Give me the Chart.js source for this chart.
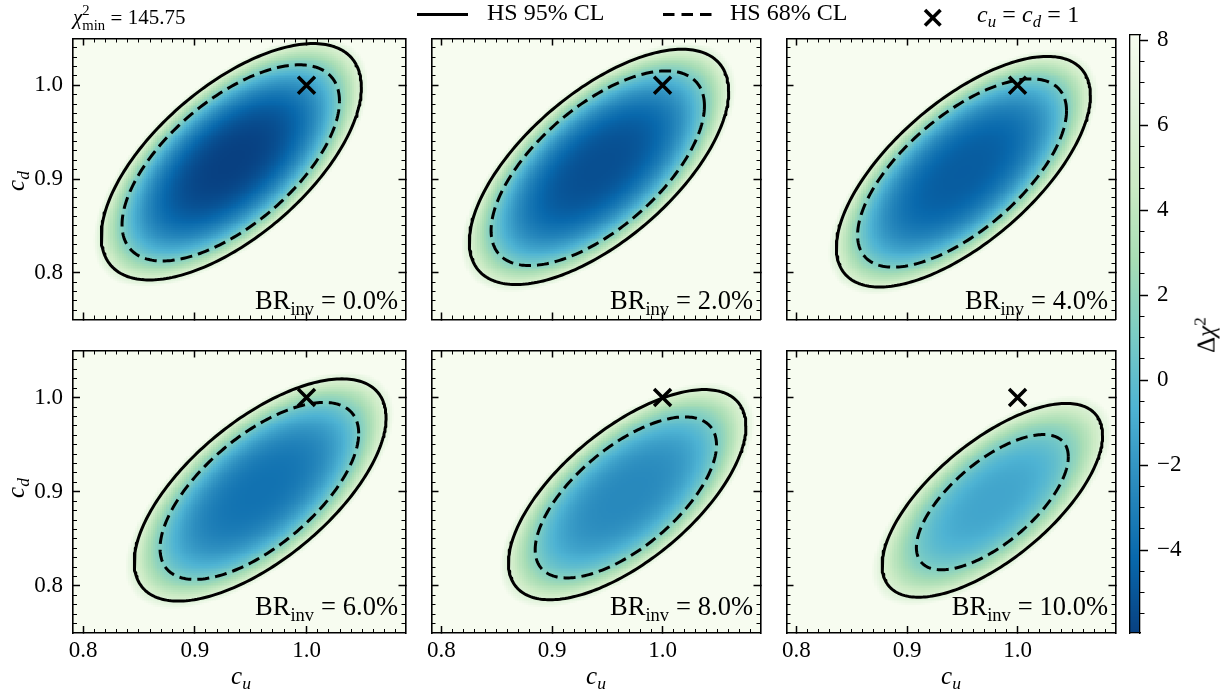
<!DOCTYPE html>
<html>
<head>
<meta charset="utf-8">
<script src="https://cdn.jsdelivr.net/npm/chart.js@4.4.1/dist/chart.umd.min.js"></script>
<style>
  html,body{margin:0;padding:0;background:#fff;}
  body{width:1232px;height:692px;position:relative;overflow:hidden;font-family:"Liberation Serif","Times New Roman",serif;color:#000;}
  canvas{position:absolute;}
  .tx{position:absolute;white-space:nowrap;line-height:1;font-family:"Liberation Serif","Times New Roman",serif;color:#000;}
  .sb{font-size:70%;position:relative;top:0.3em;}
  .ms{display:inline-block;vertical-align:-0.38em;font-size:70%;line-height:1.02;text-align:left;}
  .eq{padding:0 0.26em;}
</style>
</head>
<body>
<script>
// ---------------- data ----------------
const brInv        = [0.0, 2.0, 4.0, 6.0, 8.0, 10.0];          // BR_inv (%) per panel
const cuMajorTicks = [0.8, 0.9, 1.0];
const cdMajorTicks = [0.8, 0.9, 1.0];
const cbMajorTicks = [-4, -2, 0, 2, 4, 6, 8];
const chi2MinValue = 145.75;
const smPointU     = [1.0];
const smPointD     = [1.0];
const cuRange      = [0.791, 1.0886];
const cdRange      = [0.75, 1.05];
const cbRange      = [-5.95, 8.12];
// HS 95% CL contour (solid): centre and half-extent in c_u, c_d
const cl95CenterU  = [0.9327, 0.9425, 0.9510, 0.9585, 0.9680, 0.9772];
const cl95CenterD  = [0.9184, 0.9129, 0.9078, 0.9019, 0.8969, 0.8909];
const cl95HalfU    = [0.1164, 0.1173, 0.1149, 0.1127, 0.1074, 0.0997];
const cl95HalfD    = [0.1262, 0.1256, 0.1231, 0.1180, 0.1116, 0.1029];
// HS 68% CL contour (dashed)
const cl68CenterU  = [0.9322, 0.9414, 0.9498, 0.9578, 0.9668, 0.9772];
const cl68CenterD  = [0.9172, 0.9115, 0.9064, 0.9009, 0.8940, 0.8889];
const cl68HalfU    = [0.0973, 0.0965, 0.0945, 0.0889, 0.0820, 0.0687];
const cl68HalfD    = [0.1047, 0.1039, 0.1005, 0.0940, 0.0855, 0.0718];
const contourCorr  = [0.63, 0.64, 0.66, 0.65, 0.65, 0.67];     // c_u–c_d correlation of the contours
const deltaChi2Min = [-5.95, -5.3, -4.7, -3.7, -2.6, -1.3];    // darkest value in each panel
const deltaChi2At95 = 6.0;    // colour value along the solid contour
const deltaChi2At68 = 1.2;    // colour value along the dashed contour

// ---------------- helpers ----------------
const FONT = '"Liberation Serif", "Times New Roman", serif';
const GNBU_R = ['#084081','#0868ac','#2b8cbe','#4eb3d3','#7bccc4','#a8ddb5','#ccebc5','#e0f3db','#f7fcf0'];
const CM = GNBU_R.map(h => [parseInt(h.slice(1,3),16), parseInt(h.slice(3,5),16), parseInt(h.slice(5,7),16)]);
function colorFor(v){
  let t = (v - cbRange[0]) / (cbRange[1] - cbRange[0]);
  t = Math.max(0, Math.min(1, t));
  const s = t * (CM.length - 1);
  const i = Math.min(CM.length - 2, Math.floor(s));
  const f = s - i, a = CM[i], b = CM[i+1];
  return 'rgb(' + Math.round(a[0]+(b[0]-a[0])*f) + ',' + Math.round(a[1]+(b[1]-a[1])*f) + ',' + Math.round(a[2]+(b[2]-a[2])*f) + ')';
}
function profileExponent(p){
  const k = 0.5 * (cl68HalfU[p]/cl95HalfU[p] + cl68HalfD[p]/cl95HalfD[p]);
  const m = deltaChi2Min[p];
  return Math.log((deltaChi2At68 - m) / (deltaChi2At95 - m)) / Math.log(k);
}
function deltaChi2(p, u, d, expo){
  const X = (u - cl95CenterU[p]) / cl95HalfU[p];
  const Y = (d - cl95CenterD[p]) / cl95HalfD[p];
  const r = contourCorr[p];
  const r2 = (X*X - 2*r*X*Y + Y*Y) / (1 - r*r);
  const m = deltaChi2Min[p];
  return m + (deltaChi2At95 - m) * Math.pow(Math.sqrt(r2), expo);
}
function contourPoints(cu, cd, hu, hd, rho){
  const pts = [], s = Math.sqrt(1 - rho*rho), n = 240;
  for (let i = 0; i <= n; i++){
    const t = 2*Math.PI*i/n;
    pts.push({x: cu + hu*Math.cos(t), y: cd + hd*(rho*Math.cos(t) + s*Math.sin(t))});
  }
  return pts;
}
function minorList(lo, hi, step){
  const out = [];
  for (let k = Math.ceil(lo/step - 1e-9); k*step <= hi + 1e-9; k++){
    const v = +(k*step).toFixed(4);
    if (v > lo + 1e-6 && v < hi - 1e-6) out.push(v);
  }
  return out;
}
const cuMinorTicks = minorList(cuRange[0], cuRange[1], 0.01);
const cdMinorTicks = minorList(cdRange[0], cdRange[1], 0.01);
const cbMinorTicks = minorList(cbRange[0], cbRange[1], 0.5);

function fixSize(s, vertical, size){
  if (vertical) s.width = size; else s.height = size;
  s.paddingTop = 0; s.paddingBottom = 0; s.paddingLeft = 0; s.paddingRight = 0;
}

function heatmapPlugin(p){
  return {
    id: 'heat' + p,
    beforeDraw(chart){
      const xs = chart.scales.x, ys = chart.scales.y, ctx = chart.ctx, a = chart.chartArea;
      const expo = profileExponent(p);
      const du = 0.002, dd = 0.002;
      ctx.save();
      ctx.beginPath(); ctx.rect(a.left, a.top, a.right - a.left, a.bottom - a.top); ctx.clip();
      for (let u = cuRange[0]; u < cuRange[1]; u += du){
        const x0 = Math.floor(xs.getPixelForValue(u)), x1 = Math.ceil(xs.getPixelForValue(u + du));
        for (let d = cdRange[0]; d < cdRange[1]; d += dd){
          const yb = Math.ceil(ys.getPixelForValue(d)), yt = Math.floor(ys.getPixelForValue(d + dd));
          ctx.fillStyle = colorFor(deltaChi2(p, u + du/2, d + dd/2, expo));
          ctx.fillRect(x0, yt, x1 - x0, yb - yt);
        }
      }
      ctx.restore();
    }
  };
}

function axisCfg(pos, range, vals, len, size, weight, showLabels, showBorder, pad){
  const vertical = (pos === 'left' || pos === 'right');
  return {
    type: 'linear', position: pos, min: range[0], max: range[1], weight: weight,
    afterBuildTicks: s => { s.ticks = vals.map(v => ({value: v})); },
    afterFit: s => fixSize(s, vertical, size),
    ticks: {display: showLabels, autoSkip: false, maxRotation: 0, minRotation: 0,
            font: {family: FONT, size: 23}, color: '#000', padding: pad,
            callback: v => Number(v).toFixed(1)},
    grid: {display: true, drawOnChartArea: false, drawTicks: true, tickLength: len,
           tickWidth: Math.abs(len) > 5 ? 1.5 : 1, tickColor: '#000'},
    border: {display: showBorder, color: '#000', width: 1.6}
  };
}

const colLeft = [73, 428, 783], rowTop = [35, 343], rowH = [292, 290], panelW = 336;

function makePanel(p){
  const col = p % 3, row = Math.floor(p / 3);
  const L = colLeft[col], T = rowTop[row], H = rowH[row];
  const padL = col === 0 ? 73 : 12, padR = 12, padT = row === 0 ? 12 : 8, padB = row === 1 ? 59 : 8;
  const cv = document.createElement('canvas');
  cv.width = panelW + padL + padR; cv.height = H + padT + padB;
  cv.style.left = (L - padL) + 'px'; cv.style.top = (T - padT) + 'px';
  cv.style.width = cv.width + 'px'; cv.style.height = cv.height + 'px';
  document.body.appendChild(cv);
  new Chart(cv, {
    type: 'scatter',
    data: {datasets: [
      {data: contourPoints(cl95CenterU[p], cl95CenterD[p], cl95HalfU[p], cl95HalfD[p], contourCorr[p]),
       showLine: true, borderColor: '#000', borderWidth: 3, pointRadius: 0, tension: 0, fill: false,
       borderJoinStyle: 'round', borderCapStyle: 'round'},
      {data: contourPoints(cl68CenterU[p], cl68CenterD[p], cl68HalfU[p], cl68HalfD[p], contourCorr[p]),
       showLine: true, borderColor: '#000', borderWidth: 3, borderDash: [12, 6], pointRadius: 0, tension: 0, fill: false,
       borderJoinStyle: 'round'},
      {data: smPointU.map((u, i) => ({x: u, y: smPointD[i]})), showLine: false,
       pointStyle: 'crossRot', pointRadius: 12, borderWidth: 3.5, borderColor: '#000', backgroundColor: '#000'}
    ]},
    options: {
      responsive: false, animation: false, devicePixelRatio: 1, events: [],
      layout: {padding: 0},
      plugins: {legend: {display: false}, tooltip: {enabled: false}, title: {display: false}},
      scales: {
        x:       axisCfg('bottom', cuRange, cuMajorTicks, -7, padB, 1, row === 1, true, 11.5),
        xMinor:  axisCfg('bottom', cuRange, cuMinorTicks, -4, 0, 0, false, false, 0),
        xT:      axisCfg('top', cuRange, cuMajorTicks, -7, padT, 1, false, true, 0),
        xTMinor: axisCfg('top', cuRange, cuMinorTicks, -4, 0, 0, false, false, 0),
        y:       axisCfg('left', cdRange, cdMajorTicks, -7, padL, 1, col === 0, true, 17),
        yMinor:  axisCfg('left', cdRange, cdMinorTicks, -4, 0, 0, false, false, 0),
        yR:      axisCfg('right', cdRange, cdMajorTicks, -7, padR, 1, false, true, 0),
        yRMinor: axisCfg('right', cdRange, cdMinorTicks, -4, 0, 0, false, false, 0)
      }
    },
    plugins: [heatmapPlugin(p)]
  });
}
for (let p = 0; p < brInv.length; p++) makePanel(p);

// ---------------- colour bar ----------------
(function(){
  const cv = document.createElement('canvas');
  cv.width = 112; cv.height = 635;
  cv.style.left = '1120px'; cv.style.top = '25px'; cv.style.width = '112px'; cv.style.height = '635px';
  document.body.appendChild(cv);
  const plain = (pos, size) => ({type: 'linear', position: pos, min: 0, max: 1,
    afterFit: s => fixSize(s, pos === 'left' || pos === 'right', size),
    ticks: {display: false}, grid: {display: false}, border: {display: true, color: '#000', width: 1.3}});
  new Chart(cv, {
    type: 'scatter',
    data: {datasets: []},
    options: {
      responsive: false, animation: false, devicePixelRatio: 1, events: [],
      layout: {padding: 0},
      plugins: {legend: {display: false}, tooltip: {enabled: false}},
      scales: {
        y: {type: 'linear', position: 'right', min: cbRange[0], max: cbRange[1], weight: 1,
            afterBuildTicks: s => { s.ticks = cbMajorTicks.map(v => ({value: v})); },
            afterFit: s => fixSize(s, true, 92),
            ticks: {display: true, autoSkip: false, font: {family: FONT, size: 23}, color: '#000', padding: 9,
                    callback: v => (v < 0 ? '\u2212' + Math.abs(v) : String(v))},
            grid: {display: true, drawOnChartArea: false, tickLength: 8, tickWidth: 1.5, tickColor: '#000'},
            border: {display: true, color: '#000', width: 1.3}},
        yM: {type: 'linear', position: 'right', min: cbRange[0], max: cbRange[1], weight: 0,
            afterBuildTicks: s => { s.ticks = cbMinorTicks.map(v => ({value: v})); },
            afterFit: s => fixSize(s, true, 0),
            ticks: {display: false},
            grid: {display: true, drawOnChartArea: false, tickLength: 4.5, tickWidth: 1, tickColor: '#000'},
            border: {display: false}},
        yL: plain('left', 10),
        x: plain('bottom', 27),
        xT: plain('top', 10)
      }
    },
    plugins: [{
      id: 'cbar',
      beforeDraw(chart){
        const ys = chart.scales.y, ctx = chart.ctx, a = chart.chartArea;
        const step = 0.02;
        for (let v = cbRange[0]; v < cbRange[1]; v += step){
          const yb = Math.ceil(ys.getPixelForValue(v)), yt = Math.floor(ys.getPixelForValue(Math.min(cbRange[1], v + step)));
          ctx.fillStyle = colorFor(v + step/2);
          ctx.fillRect(a.left, yt, a.right - a.left, yb - yt);
        }
      }
    }]
  });
})();

// ---------------- text ----------------
function addText(html, x, baseline, size, align){
  const d = document.createElement('div');
  d.className = 'tx';
  d.innerHTML = html;
  d.style.fontSize = size + 'px';
  d.style.top = (baseline - 0.8375*size) + 'px';
  if (align === 'right') d.style.right = (1232 - x) + 'px';
  else if (align === 'center') { d.style.left = x + 'px'; d.style.transform = 'translateX(-50%)'; }
  else d.style.left = x + 'px';
  document.body.appendChild(d);
  return d;
}
function addRot(html, cx, cy, size){
  const d = document.createElement('div');
  d.className = 'tx';
  d.innerHTML = html;
  d.style.fontSize = size + 'px';
  d.style.left = cx + 'px'; d.style.top = cy + 'px';
  d.style.transform = 'translate(-50%,-50%) rotate(-90deg)';
  document.body.appendChild(d);
}

// title
addText('<i>χ</i><span class="ms">2<br>min</span><span class="eq">=</span>' + chi2MinValue.toFixed(2), 73, 21, 21);

// BR_inv labels
for (let p = 0; p < brInv.length; p++){
  const col = p % 3, row = Math.floor(p / 3);
  const right = colLeft[col] + panelW - 11;
  const base = rowTop[row] + rowH[row] - 17.5;
  addText('BR<span class="sb">inv</span><span class="eq">=</span>' + brInv[p].toFixed(1) + '%', right, base, 26.5, 'right');
}
// axis labels
for (let col = 0; col < 3; col++) addText('<i>c</i><span class="sb"><i>u</i></span>', colLeft[col] + panelW/2, 684, 25, 'center');
for (let row = 0; row < 2; row++) addRot('<i>c</i><span class="sb"><i>d</i></span>', 15, rowTop[row] + rowH[row]/2, 25);
addRot('Δ<i>χ</i><span style="font-size:70%;position:relative;top:-0.5em">2</span>', 1206, 335, 25);

// legend
(function(){
  const svgNS = 'http://www.w3.org/2000/svg';
  const svg = document.createElementNS(svgNS, 'svg');
  svg.setAttribute('width', '1232'); svg.setAttribute('height', '34');
  svg.style.position = 'absolute'; svg.style.left = '0'; svg.style.top = '0';
  const line = (x1, y1, x2, y2, width, dash) => {
    const l = document.createElementNS(svgNS, 'line');
    l.setAttribute('x1', x1); l.setAttribute('y1', y1); l.setAttribute('x2', x2); l.setAttribute('y2', y2);
    l.setAttribute('stroke', '#000'); l.setAttribute('stroke-width', width);
    if (dash) l.setAttribute('stroke-dasharray', dash);
    svg.appendChild(l);
    return l;
  };
  line(417, 14.5, 468, 14.5, 3);
  line(663, 14.5, 712, 14.5, 3, '11.5 7');
  line(925, 10, 940.5, 25.5, 3.5);
  line(925, 25.5, 940.5, 10, 3.5);
  document.body.appendChild(svg);
})();
addText('HS 95% CL', 487, 20.5, 24);
addText('HS 68% CL', 730, 20.5, 24);
addText('<i>c</i><span class="sb"><i>u</i></span><span class="eq">=</span><i>c</i><span class="sb"><i>d</i></span><span class="eq">=</span>1', 977, 22.5, 24);
</script>
</body>
</html>
